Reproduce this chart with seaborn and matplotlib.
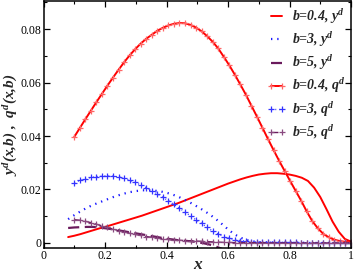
import numpy as np
import pandas as pd
import matplotlib
matplotlib.use("Agg")
import matplotlib.pyplot as plt
from matplotlib.ticker import MultipleLocator
import seaborn as sns

# ---- data ----
x_q = [round(0.1 + 0.018 * k, 3) for k in range(51)]
q_b04 = [0.0397,0.0430,0.0463,0.0495,0.0527,0.0558,0.0589,0.0619,0.0648,0.0676,
         0.0702,0.0725,0.0746,0.0764,0.0779,0.0794,0.0805,0.0814,0.0820,0.0823,
         0.0822,0.0816,0.0806,0.0792,0.0774,0.0753,0.0728,0.0697,0.0665,0.0630,
         0.0593,0.0555,0.0514,0.0473,0.0431,0.0389,0.0348,0.0308,0.0270,0.0232,
         0.0195,0.0158,0.0118,0.0082,0.0055,0.0034,0.0021,0.0012,0.0007,0.0004,0.0002]
q_b3 = [0.0226,0.0234,0.0240,0.0245,0.0248,0.0250,0.0251,0.0250,0.0247,0.0242,
        0.0235,0.0227,0.0217,0.0207,0.0196,0.0184,0.0171,0.0158,0.0144,0.0130,
        0.0116,0.0101,0.0087,0.0073,0.0058,0.0045,0.0033,0.0024,0.0017,0.0012,
        0.0009,0.0007,0.0005,0.0004,0.0003,0.0003,0.0003,0.0002,0.0002,0.0002,
        0.0002,0.0001,0.0001,0.0001,0.0001,0.0001,0.0001,0.0,0.0,0.0,0.0]
q_b5 = [0.0087,0.0085,0.0081,0.0076,0.0070,0.0064,0.0058,0.0052,0.0046,0.0041,
        0.0036,0.0032,0.0028,0.0024,0.0021,0.0018,0.0015,0.0013,0.0011,0.0010,
        0.0009,0.0008,0.0007,0.0006,0.0005,0.0004,0.0003,0.0002,0.0002,0.0001,
        0.0001,0.0001,0.0001,0.0001,0.0001,0.0,0.0,0.0,0.0,0.0,
        0.0,0.0,0.0,0.0,0.0,0.0,0.0,0.0,0.0,0.0,0.0]

x_y = [round(0.08 + 0.02 * k, 2) for k in range(47)]
y_b04 = [0.0022,0.0027,0.0033,0.0040,0.0047,0.0054,0.0060,0.0067,0.0074,0.0081,
         0.0088,0.0095,0.0102,0.0110,0.0118,0.0126,0.0134,0.0142,0.0150,0.0159,
         0.0168,0.0177,0.0186,0.0195,0.0204,0.0213,0.0222,0.0230,0.0238,0.0245,
         0.0251,0.0256,0.0259,0.0261,0.0261,0.0259,0.0256,0.0251,0.0244,0.0232,
         0.0207,0.0172,0.0127,0.0080,0.0042,0.0015,0.0005]
y_b3 = [0.0089,0.0104,0.0118,0.0131,0.0142,0.0151,0.0160,0.0169,0.0177,0.0184,
        0.0190,0.0194,0.0197,0.0197,0.0196,0.0193,0.0188,0.0181,0.0172,0.0161,
        0.0149,0.0136,0.0122,0.0107,0.0090,0.0071,0.0051,0.0033,0.0020,0.0011,
        0.0006,0.0003,0.0002,0.0002,0.0001,0.0001,0.0001,0.0001,0.0001,0.0,
        0.0,0.0,0.0,0.0,0.0,0.0,0.0]
y_b5 = [0.0056,0.0058,0.0059,0.0060,0.0060,0.0058,0.0055,0.0052,0.0048,0.0044,
        0.0040,0.0036,0.0032,0.0028,0.0024,0.0020,0.0016,0.0013,0.0010,0.0008,
        0.0006,0.0003,-0.0001,-0.0006,-0.0013,-0.0022,-0.0032]

labels = ["b=0.4, y$^d$", "b=3, y$^d$", "b=5, y$^d$",
          "b=0.4, q$^d$", "b=3, q$^d$", "b=5, q$^d$"]

RED = "#ff0000"
BLUE = "#1a1aff"
PURPLE = "#6a1a5c"

sns.set_theme(style="ticks")
plt.rcParams["font.family"] = ["Liberation Serif", "DejaVu Serif"]
plt.rcParams["mathtext.fontset"] = "custom"
plt.rcParams["mathtext.rm"] = "Liberation Serif:bold:italic"
plt.rcParams["mathtext.it"] = "Liberation Serif:bold:italic"
plt.rcParams["mathtext.bf"] = "Liberation Serif:bold:italic"

fig = plt.figure(figsize=(3.54, 2.73), dpi=100)
ax = fig.add_axes([0.123, 0.0905, 0.8685, 0.9055])

sns.lineplot(x=x_y, y=y_b04, ax=ax, color=RED, lw=1.4, label=labels[0])
sns.lineplot(x=x_y, y=y_b3, ax=ax, color=BLUE, lw=1.6, linestyle=(0, (0.6, 2.2)),
             label=labels[1])
sns.lineplot(x=x_y[:len(y_b5)], y=y_b5, ax=ax, color=PURPLE, lw=1.6,
             linestyle=(0, (5, 2.5)), label=labels[2])
sns.lineplot(x=x_q, y=q_b04, ax=ax, color=RED, lw=1.4, marker="+", markersize=5,
             markeredgewidth=0.9, markeredgecolor="#ff6666", label=labels[3])
sns.lineplot(x=x_q, y=q_b3, ax=ax, color=BLUE, lw=1.0, linestyle=(0, (0.6, 2.2)),
             marker="+", markersize=5, markeredgewidth=0.9,
             markeredgecolor="#3333ff", label=labels[4])
sns.lineplot(x=x_q, y=q_b5, ax=ax, color=PURPLE, lw=1.0, linestyle=(0, (5, 2.5)),
             marker="+", markersize=5, markeredgewidth=0.9,
             markeredgecolor="#8a4a80", label=labels[5])

ax.set_xlim(0, 1)
ax.set_ylim(-0.002, 0.0905)
ax.xaxis.set_minor_locator(MultipleLocator(0.1))
ax.yaxis.set_minor_locator(MultipleLocator(0.01))
ax.set_xticks([0, 0.2, 0.4, 0.6, 0.8, 1.0])
ax.set_xticklabels(["0", "0.2", "0.4", "0.6", "0.8", "1"])
ax.set_yticks([0, 0.02, 0.04, 0.06, 0.08])
ax.set_yticklabels(["0", "0.02", "0.04", "0.06", "0.08"])
ax.tick_params(which="both", direction="in", top=True, right=True,
               colors="black", labelsize=8.5, pad=1.5)
ax.tick_params(which="major", length=4.5, width=0.9)
ax.tick_params(which="minor", length=2.5, width=0.8)
for s in ax.spines.values():
    s.set_linewidth(1.1)
    s.set_color("black")

ax.set_xlabel("x", fontsize=12.5, fontstyle="italic", fontweight="bold")
ax.xaxis.set_label_coords(0.5, -0.035)
ax.set_ylabel("y$^d$(x,b) ,  q$^d$(x,b)", fontsize=11, fontstyle="italic",
              fontweight="bold")
ax.yaxis.set_label_coords(-0.077, 0.5)

leg = ax.legend(loc="upper right", frameon=False, numpoints=2, handlelength=1.4,
                handletextpad=0.4, labelspacing=0.3, borderaxespad=0.05,
                prop={"family": "Liberation Serif", "style": "italic",
                      "weight": "bold", "size": 10})

fig.savefig("out.png", dpi=100)
